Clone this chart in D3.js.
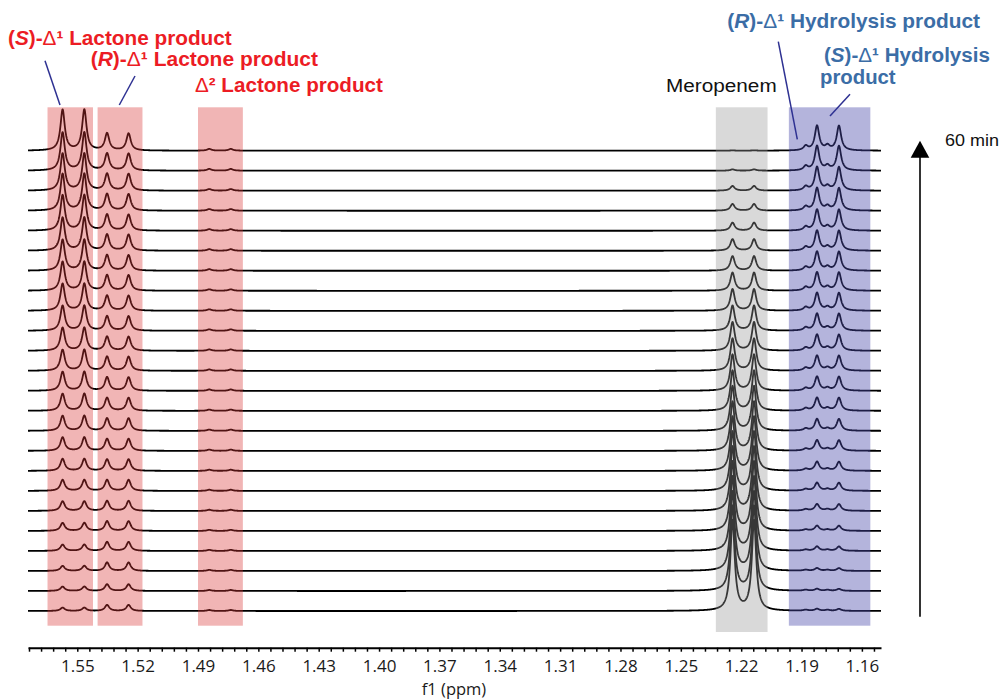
<!DOCTYPE html>
<html>
<head>
<meta charset="utf-8">
<title>Meropenem NMR time course</title>
<style type="text/css">
body { margin: 0; background: #fff; }
text { font-family: 'Liberation Sans', Arial, sans-serif; }
.axis text { font-family: 'Open Sans', sans-serif; font-size: 17px; fill: #1a1a1a; }
.axis path, .axis line { stroke: #000; }
</style>
</head>
<body>
<script src="https://d3js.org/d3.v7.min.js"></script>
<script type="text/javascript">

// chemical shifts (ppm) of each doublet
const sLactoneShifts = [1.5573, 1.5465];
const rLactoneShifts = [1.5352, 1.5245];
const d2LactoneShifts = [1.4844, 1.4737];
const meropenemShifts = [1.2243, 1.2136];
const rHydrolysisShifts = [1.1879, 1.1771];
const sHydrolysisShifts = [1.1823, 1.1714];

// peak intensities per spectrum, first = start, last = 60 min (meropenem at start = 100)
const sLactone = [3.7, 4.8, 5.6, 7, 8.9, 10.6, 12.2, 13.3, 15, 16.7, 18.9, 21.1, 23.3, 25.6, 27.8, 30, 32.2, 34.4, 36.7, 39.4, 40.8, 41.1, 42.2, 45.2];
const rLactone = [6.7, 7.4, 9.4, 10, 10.8, 11.1, 12.2, 12.8, 13.3, 13.9, 14.4, 15, 15.6, 15.6, 16.1, 16.7, 17.2, 17.2, 17.8, 17.8, 18.3, 18.6, 18.9, 18.9];
const d2Lactone = [1.1, 1.1, 1.2, 1.2, 1.2, 1.3, 1.3, 1.3, 1.4, 1.4, 1.4, 1.5, 1.5, 1.5, 1.6, 1.6, 1.6, 1.7, 1.7, 1.7, 1.8, 1.8, 1.9, 1.9];
const meropenem = [100, 93.9, 87.8, 82.2, 76.7, 71.1, 65.6, 60, 54.4, 49.4, 44.4, 40, 35.6, 31.7, 27.8, 23.9, 20, 16.1, 12.8, 8.9, 7.4, 5.2, 1.4, 0.3];
const rHydrolysis = [1.1, 1.1, 1.1, 1.3, 1.4, 1.7, 1.9, 2.1, 2.2, 2.4, 2.7, 2.9, 3.1, 3.3, 3.4, 3.6, 3.8, 3.9, 4, 4.2, 4.4, 4.4, 4.7, 4.8];
const sHydrolysis = [2.2, 2.2, 3, 4.8, 5.6, 7.4, 8.9, 10, 11.7, 13, 14.4, 15.6, 16.7, 17.8, 18.9, 19.7, 20.3, 21.1, 22.2, 23.3, 25, 26.1, 27.2, 27.4];

// highlighted regions (ppm)
const lactoneBands = [[1.5648, 1.5422], [1.5399, 1.5176], [1.4900, 1.4677]];
const meropenemBand = [1.2326, 1.2069];
const hydrolysisBand = [1.1963, 1.1558];

const majorTicks = [1.55, 1.52, 1.49, 1.46, 1.43, 1.40, 1.37, 1.34, 1.31, 1.28, 1.25, 1.22, 1.19, 1.16];

const width = 1001, height = 699;
const gamma = 0.0013; // half width at half height, ppm

var svg = d3.select("body").append("svg")
    .attr("width", width)
    .attr("height", height);

var x = d3.scaleLinear().domain([1.5745, 1.1505]).range([28, 881]);
var base = d3.scaleLinear().domain([0, meropenem.length - 1]).range([611, 150.7]);
var amp = d3.scaleLinear().domain([0, 100]).range([0, 90]);

const species = [
  {shifts: sLactoneShifts, h: sLactone},
  {shifts: rLactoneShifts, h: rLactone},
  {shifts: d2LactoneShifts, h: d2Lactone},
  {shifts: meropenemShifts, h: meropenem},
  {shifts: rHydrolysisShifts, h: rHydrolysis},
  {shifts: sHydrolysisShifts, h: sHydrolysis}
];

// sample grid across the plotted range
const grid = d3.range(x.range()[0], x.range()[1] + 0.01, 0.25).map(px => x.invert(px));

function spectrum(i) {
  return grid.map(function(p) {
    var s = 0;
    species.forEach(function(sp) {
      sp.shifts.forEach(function(c) {
        var d = (p - c) / gamma;
        s += sp.h[i] / (1 + d * d);
      });
    });
    return [p, s];
  });
}

// spectra
var traces = svg.append("g");
d3.range(meropenem.length).reverse().forEach(function(i) {
  var line = d3.line()
      .x(d => x(d[0]))
      .y(d => base(i) - amp(d[1]));
  traces.append("path")
      .attr("d", line(spectrum(i)))
      .attr("fill", "none")
      .attr("stroke", "#000")
      .attr("stroke-width", 1.8)
      .attr("stroke-linejoin", "round");
});

// shaded regions drawn over the traces
var bandTop = 107.3, bandBottom = 625.7;
svg.selectAll(".lac")
    .data(lactoneBands)
  .enter().append("rect")
    .attr("x", d => x(d[0]))
    .attr("width", d => x(d[1]) - x(d[0]))
    .attr("y", bandTop)
    .attr("height", bandBottom - bandTop)
    .attr("fill", "rgb(216,54,54)")
    .attr("fill-opacity", 0.37);

svg.append("rect")
    .attr("x", x(meropenemBand[0]))
    .attr("width", x(meropenemBand[1]) - x(meropenemBand[0]))
    .attr("y", bandTop)
    .attr("height", 632 - bandTop)
    .attr("fill", "rgb(151,151,151)")
    .attr("fill-opacity", 0.365);

svg.append("rect")
    .attr("x", x(hydrolysisBand[0]))
    .attr("width", x(hydrolysisBand[1]) - x(hydrolysisBand[0]))
    .attr("y", bandTop)
    .attr("height", bandBottom - bandTop)
    .attr("fill", "rgb(73,73,171)")
    .attr("fill-opacity", 0.41);

// x axis
var allTicks = d3.range(-4, 67).map(k => +(1.55 - k * 0.006).toFixed(3));
var isMajor = d => majorTicks.some(m => Math.abs(m - d) < 1e-6);

var axis = svg.append("g")
    .attr("class", "axis")
    .attr("transform", "translate(0,647.7)")
    .call(d3.axisBottom(x)
      .tickValues(allTicks)
      .tickSize(4)
      .tickSizeOuter(0)
      .tickPadding(8)
      .tickFormat(d => isMajor(d) ? d3.format(".2f")(d) : ""));
axis.select(".domain").attr("stroke-width", 2);
axis.selectAll(".tick line").attr("stroke-width", 1.5);
axis.selectAll("text").attr("font-size", null);

svg.append("text")
    .attr("x", 454)
    .attr("y", 695)
    .attr("text-anchor", "middle")
    .style("font-family", "'Open Sans', sans-serif")
    .style("font-size", "16.5px")
    .style("fill", "#1a1a1a")
    .text("f1 (ppm)");

// labels
function label(px, py, parts, color, size, targetWidth) {
  var t = svg.append("text")
      .attr("fill", color)
      .style("font-size", size + "px");
  parts.forEach(function(p) {
    t.append("tspan")
        .attr("font-weight", p.w || "bold")
        .attr("font-style", p.i ? "italic" : "normal")
        .text(p.t);
  });
  var natural = t.node().getComputedTextLength();
  t.attr("transform", "translate(" + px + "," + py + ") scale(" + (targetWidth / natural) + ",1)");
  return t;
}

var red = "#ec1c24", blue = "#3b6da6", navy = "#2e3192";

label(8, 45, [{t: "("}, {t: "S", i: true}, {t: ")-"}, {t: "\u0394", w: "normal"}, {t: "\u00b9 Lactone product"}], red, 19.5, 224);
label(90.7, 66, [{t: "("}, {t: "R", i: true}, {t: ")-"}, {t: "\u0394", w: "normal"}, {t: "\u00b9 Lactone product"}], red, 19.5, 227.3);
label(195, 91.7, [{t: "\u0394", w: "normal"}, {t: "\u00b2 Lactone product"}], red, 19.5, 188);

label(727.3, 28.3, [{t: "("}, {t: "R", i: true}, {t: ")-"}, {t: "\u0394", w: "normal"}, {t: "\u00b9 Hydrolysis product"}], blue, 19.5, 252.7);
label(824, 61.7, [{t: "("}, {t: "S", i: true}, {t: ")-"}, {t: "\u0394", w: "normal"}, {t: "\u00b9 Hydrolysis"}], blue, 19.5, 166);
label(820, 84, [{t: "product"}], blue, 19.5, 75.7);

label(666, 92.3, [{t: "Meropenem", w: "normal"}], "#111", 17.5, 110.7);
label(945, 146, [{t: "60 min", w: "normal"}], "#111", 16, 54);

// pointer lines
const pointers = [
  [[45, 60.7], [60, 105]],
  [[135, 76], [119.3, 105]],
  [[778.3, 41.7], [797.3, 139.3]],
  [[850, 94.3], [830, 116]]
];
svg.selectAll(".pointer")
    .data(pointers)
  .enter().append("line")
    .attr("x1", d => d[0][0])
    .attr("y1", d => d[0][1])
    .attr("x2", d => d[1][0])
    .attr("y2", d => d[1][1])
    .attr("stroke", navy)
    .attr("stroke-width", 1.5);

// time arrow
svg.append("line")
    .attr("x1", 920).attr("y1", 616.7)
    .attr("x2", 920).attr("y2", 152)
    .attr("stroke", "#000")
    .attr("stroke-width", 1.6);
svg.append("path")
    .attr("d", "M920,140.7 L929.3,157.7 L910.7,157.7 Z")
    .attr("fill", "#000");

</script>
</body>
</html>
